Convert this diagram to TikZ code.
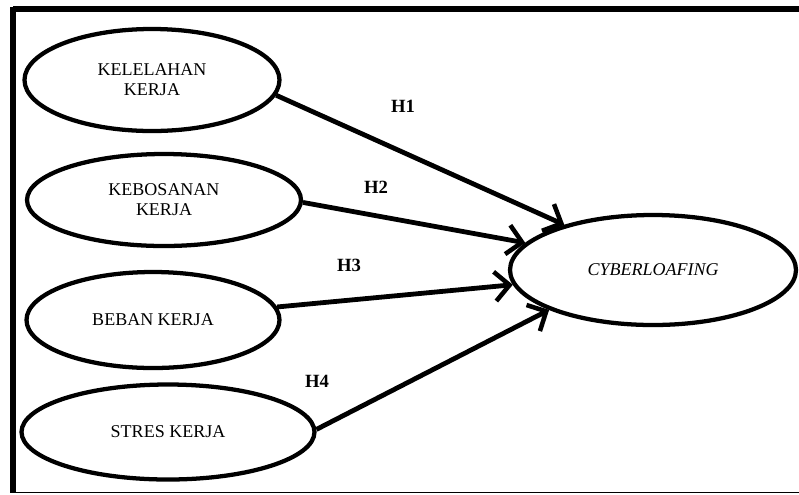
\documentclass[tikz,border=0pt]{standalone}
\usepackage{fontspec}
\setmainfont{Liberation Serif}
\usetikzlibrary{shapes.geometric,arrows.meta}
\begin{document}
\begin{tikzpicture}[x=0.75pt,y=-0.75pt,
  var/.style={draw,ellipse,line width=3.2pt,inner sep=0pt,font=\fontsize{13.5}{15}\selectfont,align=center},
  link/.style={line width=3.6pt,-{Straight Barb[length=11pt,width=22pt,line width=3.4pt]}},
  hlab/.style={font=\bfseries\fontsize{14}{16}\selectfont}]
\useasboundingbox (0,0) rectangle (799,494);
% frame
\draw[line width=4.5pt] (13,9) -- (799,9);
\draw[line width=4pt] (13,6.75) -- (13,492.5);
\draw[line width=1.2pt] (11,492.5) -- (799,492.5);
% nodes
\node[var,minimum width=191.25pt,minimum height=76.5pt] (e1) at (152,80) {KELELAHAN\\KERJA};
\node[var,minimum width=205.5pt,minimum height=69pt] (e2) at (164,200) {KEBOSANAN\\KERJA};
\node[var,minimum width=189.75pt,minimum height=72pt] (e3) at (153,320) {BEBAN KERJA};
\node[var,minimum width=219.75pt,minimum height=71.25pt] (e4) at (168,432) {STRES KERJA};
\node[var,minimum width=214.5pt,minimum height=82.5pt,font=\itshape\fontsize{13.5}{15}\selectfont] (cy) at (653,270) {CYBERLOAFING};
% connectors
\draw[link] (e1.-7) -- (cy.153.7);
\draw[link] (e2.-1) -- (cy.168.7);
\draw[link] (e3.6.7) -- (cy.186.5);
\draw[link] (e4.1.5) -- (cy.201.8);
% labels
\node[hlab] (h1) at (403,106) {H1};
\node[hlab] (h2) at (376,187) {H2};
\node[hlab] (h3) at (349,265) {H3};
\node[hlab] (h4) at (317,381) {H4};
\end{tikzpicture}
\end{document}
